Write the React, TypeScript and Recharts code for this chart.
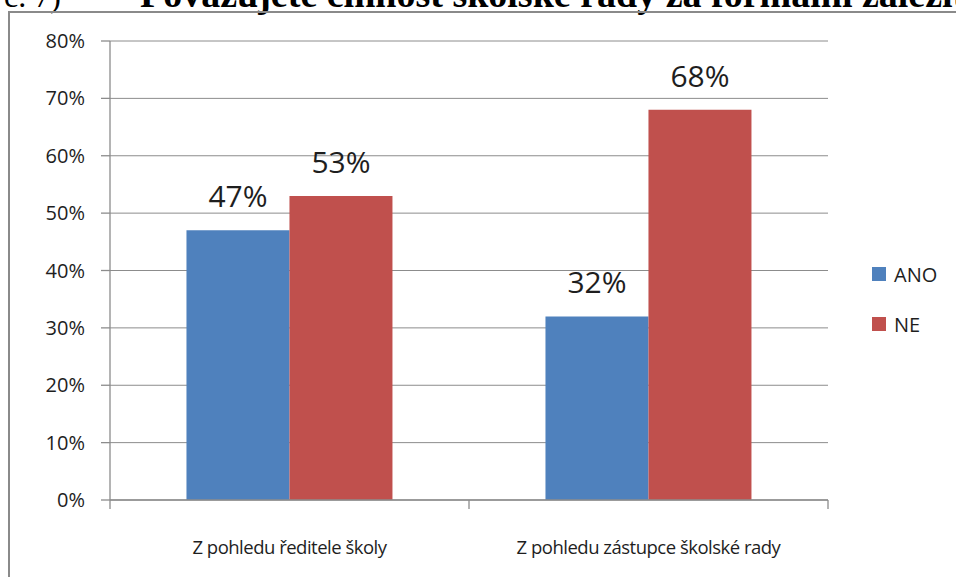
import React from "react";
import { BarChart, Bar, XAxis, YAxis, CartesianGrid, Legend, LabelList } from "recharts";

const categories = ["Z pohledu ředitele školy", "Z pohledu zástupce školské rady"];
const ano = [0.47, 0.32];
const ne = [0.53, 0.68];
const yTicks = [0, 0.1, 0.2, 0.3, 0.4, 0.5, 0.6, 0.7, 0.8];
const seriesNames = ["ANO", "NE"];
const colors = ["#4F81BD", "#C0504D"];

const data = categories.map((c, i) => ({ name: c, ANO: ano[i], NE: ne[i] }));

const FONT = "'Open Sans', sans-serif";
const pct = (v: number) => `${Math.round(v * 100)}%`;

const CatTick = (props: any) => {
  const { x, y, payload, width, visibleTicksCount, index } = props;
  const band = (width ?? 718) / (visibleTicksCount ?? 2);
  return (
    <g>
      {index === 0 && (
        <line x1={x - band / 2} x2={x - band / 2} y1={y} y2={y + 9} stroke="#8c8c8c" strokeWidth={1.3} />
      )}
      <line x1={x + band / 2} x2={x + band / 2} y1={y} y2={y + 9} stroke="#8c8c8c" strokeWidth={1.3} />
      <text x={x} y={y + 54} textAnchor="middle" fontFamily={FONT} fontSize={18.5} fill="#1e1e1e" letterSpacing={-0.5}>
        {payload.value}
      </text>
    </g>
  );
};

const LegendContent = () => (
  <div style={{ fontFamily: FONT, fontSize: 20, color: "#1e1e1e" }}>
    {seriesNames.map((n, i) => (
      <div key={n} style={{ display: "flex", alignItems: "center", height: 50 }}>
        <span style={{ width: 14, height: 14, background: colors[i], display: "inline-block", marginRight: 8 }} />
        <span>{n}</span>
      </div>
    ))}
  </div>
);

export default function App() {
  return (
    <div style={{ position: "absolute", left: 0, top: 0, width: 956, height: 577, overflow: "hidden", background: "#fff" }}>
      <svg width={956} height={20} style={{ position: "absolute", left: 0, top: 0 }}>
        <text x={4} y={7} fontFamily="'Liberation Serif', serif" fontSize={32} fill="#000">č. 7)</text>
        <text x={140} y={7} fontFamily="'Liberation Serif', serif" fontSize={38} fontWeight="bold" fill="#000">
          Považujete činnost školské rady za formální záležitost?
        </text>
      </svg>
      <div
        style={{
          position: "absolute",
          left: 8,
          top: 11,
          width: 1000,
          height: 700,
          borderLeft: "2px solid #8a8a8a",
          borderTop: "2px solid #8a8a8a",
          boxSizing: "border-box",
        }}
      />
      <div style={{ position: "absolute", left: 0, top: 0 }}>
        <BarChart
          width={956}
          height={577}
          data={data}
          margin={{ top: 41, right: 38, bottom: 0, left: 8 }}
          barCategoryGap="21.3%"
          barGap={0}
        >
          <CartesianGrid vertical={false} stroke="#8c8c8c" strokeWidth={1} />
          <XAxis
            dataKey="name"
            height={77}
            tickLine={false}
            tickSize={0}
            tickMargin={0}
            axisLine={{ stroke: "#8c8c8c", strokeWidth: 1.3 }}
            tick={<CatTick />}
            interval={0}
          />
          <YAxis
            width={102}
            domain={[0, 0.8]}
            ticks={yTicks}
            tickFormatter={pct}
            tickSize={9}
            tickMargin={16}
            axisLine={{ stroke: "#8c8c8c", strokeWidth: 1.3 }}
            tickLine={{ stroke: "#8c8c8c", strokeWidth: 1.3 }}
            tick={{ fontFamily: FONT, fontSize: 20, fill: "#1e1e1e" }}
          />
          <Legend
            layout="horizontal"
            verticalAlign="middle"
            align="right"
            content={<LegendContent />}
            wrapperStyle={{ position: "absolute", left: 872, top: 249, width: 90 }}
          />
          {seriesNames.map((n, i) => (
            <Bar key={n} dataKey={n} fill={colors[i]} isAnimationActive={false}>
              <LabelList
                dataKey={n}
                position="top"
                offset={23}
                formatter={(v: any) => pct(Number(v))}
                style={{ fontFamily: FONT, fontSize: 30, fill: "#1e1e1e" }}
              />
            </Bar>
          ))}
        </BarChart>
      </div>
    </div>
  );
}
